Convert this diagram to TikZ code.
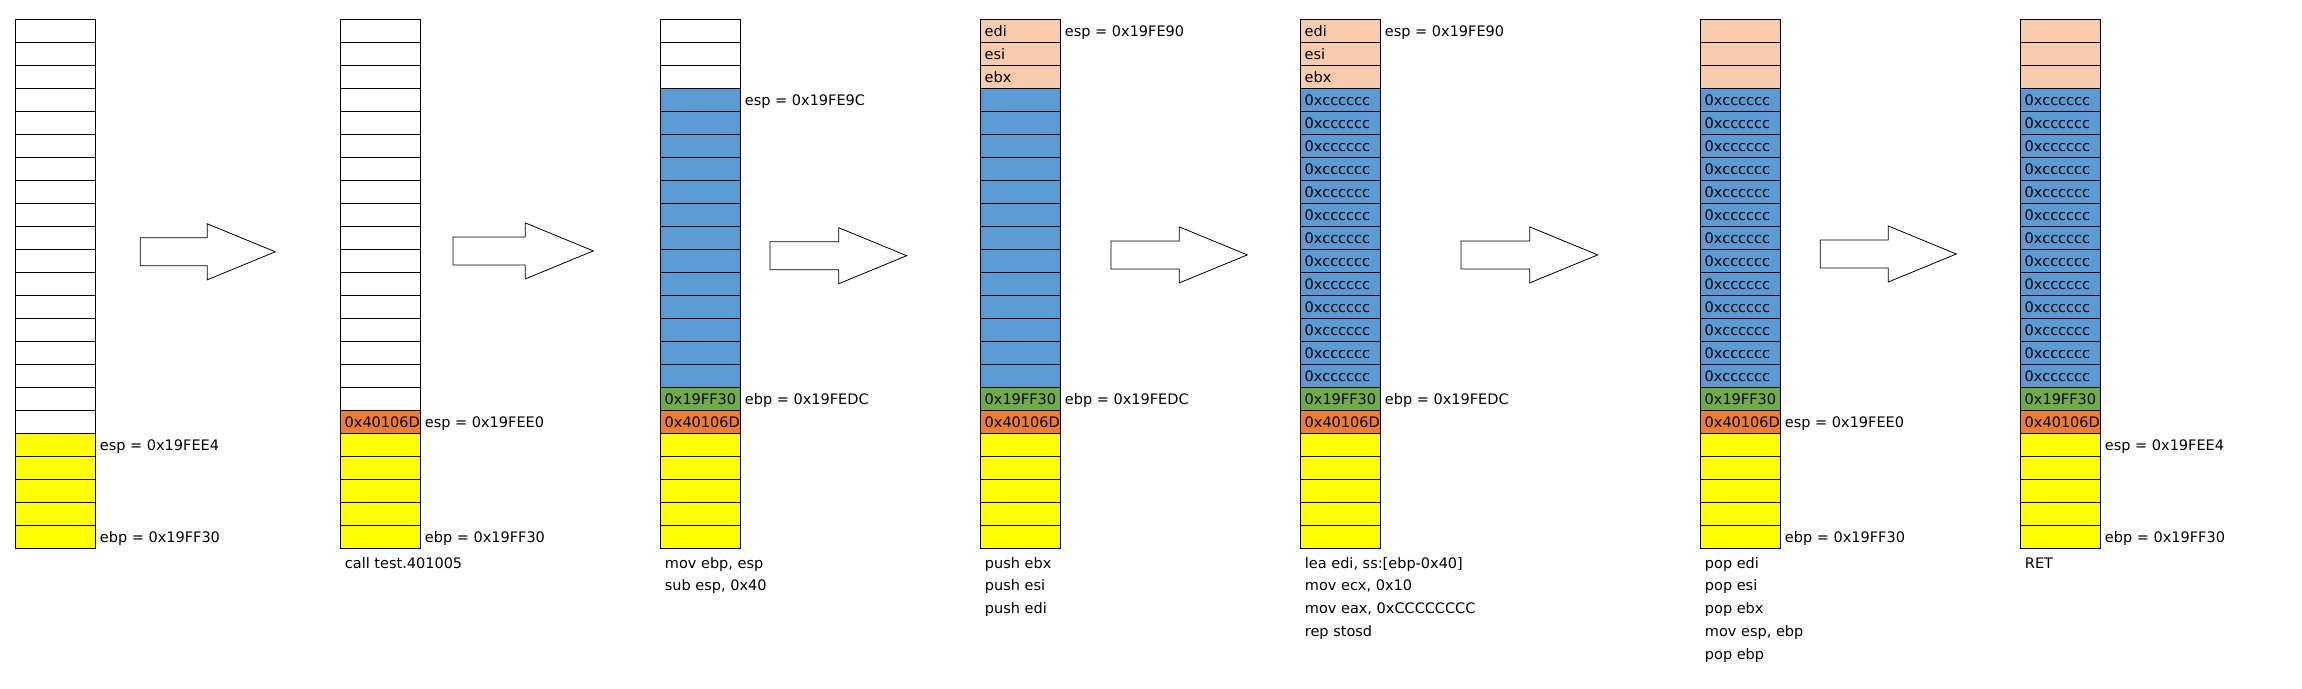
\documentclass[tikz,border=0pt]{standalone}
\usepackage{fontspec}
\setmainfont{DejaVu Sans}
\usetikzlibrary{positioning}

\definecolor{wt}{HTML}{FFFFFF}
\definecolor{yl}{HTML}{FFFF00}
\definecolor{og}{HTML}{ED7D31}
\definecolor{gn}{HTML}{70AD47}
\definecolor{bl}{HTML}{5B9BD5}
\definecolor{pc}{HTML}{F8CBAD}

% one stack column: name, left x, list of fill/text from the top
\newcommand\stackcolumn[3]{%
  \foreach \c/\t [count=\i from 0, remember=\i as \p (initially 0)] in {#3} {
    \ifnum\i=0
      \node[cell, fill=\c, anchor=north west] (#1-\i) at (#2,19.3) {\t};
    \else
      \node[cell, fill=\c, below=0pt of #1-\p] (#1-\i) {\t};
    \fi
  }%
}

% caption lines under a stack: name, left x, lines
\newcommand\stackcaption[3]{%
  \foreach \t [count=\i from 0] in {#3} {
    \node[lbl] (#1-cap\i) at (#2+4.4,562.8+22.8*\i) {\t};
  }%
}

\begin{document}
\begin{tikzpicture}[
    x=1pt, y=-1pt,
    every node/.style={font=\fontsize{14.5}{17}\selectfont},
    cell/.style={draw, line width=1pt, outer sep=0pt, inner xsep=4.4pt, inner ysep=0pt,
                 text width=71.2pt, align=left, minimum height=23pt,
                 text height=10.6pt, text depth=0pt},
    lbl/.style={anchor=west, inner sep=0pt, text height=10.6pt, text depth=0pt},
    reg/.style={lbl, right=4.4pt of #1},
    blockarrow/.style={draw, fill=white, line width=0.8pt}
]
\useasboundingbox (0,0) rectangle (2302,688);

% -------------------------
% STACKS
% -------------------------
\stackcolumn{s1}{15.3}{wt/,wt/,wt/,wt/,wt/,wt/,wt/,wt/,wt/,wt/,wt/,wt/,wt/,wt/,wt/,wt/,wt/,wt/,yl/,yl/,yl/,yl/,yl/}
\stackcolumn{s2}{340.3}{wt/,wt/,wt/,wt/,wt/,wt/,wt/,wt/,wt/,wt/,wt/,wt/,wt/,wt/,wt/,wt/,wt/,og/0x40106D,yl/,yl/,yl/,yl/,yl/}
\stackcolumn{s3}{660.3}{wt/,wt/,wt/,bl/,bl/,bl/,bl/,bl/,bl/,bl/,bl/,bl/,bl/,bl/,bl/,bl/,gn/0x19FF30,og/0x40106D,yl/,yl/,yl/,yl/,yl/}
\stackcolumn{s4}{980.3}{pc/edi,pc/esi,pc/ebx,bl/,bl/,bl/,bl/,bl/,bl/,bl/,bl/,bl/,bl/,bl/,bl/,bl/,gn/0x19FF30,og/0x40106D,yl/,yl/,yl/,yl/,yl/}
\stackcolumn{s5}{1300.3}{pc/edi,pc/esi,pc/ebx,bl/0xcccccc,bl/0xcccccc,bl/0xcccccc,bl/0xcccccc,bl/0xcccccc,bl/0xcccccc,bl/0xcccccc,bl/0xcccccc,bl/0xcccccc,bl/0xcccccc,bl/0xcccccc,bl/0xcccccc,bl/0xcccccc,gn/0x19FF30,og/0x40106D,yl/,yl/,yl/,yl/,yl/}
\stackcolumn{s6}{1700.3}{pc/,pc/,pc/,bl/0xcccccc,bl/0xcccccc,bl/0xcccccc,bl/0xcccccc,bl/0xcccccc,bl/0xcccccc,bl/0xcccccc,bl/0xcccccc,bl/0xcccccc,bl/0xcccccc,bl/0xcccccc,bl/0xcccccc,bl/0xcccccc,gn/0x19FF30,og/0x40106D,yl/,yl/,yl/,yl/,yl/}
\stackcolumn{s7}{2020.3}{pc/,pc/,pc/,bl/0xcccccc,bl/0xcccccc,bl/0xcccccc,bl/0xcccccc,bl/0xcccccc,bl/0xcccccc,bl/0xcccccc,bl/0xcccccc,bl/0xcccccc,bl/0xcccccc,bl/0xcccccc,bl/0xcccccc,bl/0xcccccc,gn/0x19FF30,og/0x40106D,yl/,yl/,yl/,yl/,yl/}

% -------------------------
% REGISTERS
% -------------------------
\node[reg=s1-18] (s1-esp) {esp = 0x19FEE4};
\node[reg=s1-22] (s1-ebp) {ebp = 0x19FF30};
\node[reg=s2-17] (s2-esp) {esp = 0x19FEE0};
\node[reg=s2-22] (s2-ebp) {ebp = 0x19FF30};
\node[reg=s3-3] (s3-esp) {esp = 0x19FE9C};
\node[reg=s3-16] (s3-ebp) {ebp = 0x19FEDC};
\node[reg=s4-0] (s4-esp) {esp = 0x19FE90};
\node[reg=s4-16] (s4-ebp) {ebp = 0x19FEDC};
\node[reg=s5-0] (s5-esp) {esp = 0x19FE90};
\node[reg=s5-16] (s5-ebp) {ebp = 0x19FEDC};
\node[reg=s6-17] (s6-esp) {esp = 0x19FEE0};
\node[reg=s6-22] (s6-ebp) {ebp = 0x19FF30};
\node[reg=s7-18] (s7-esp) {esp = 0x19FEE4};
\node[reg=s7-22] (s7-ebp) {ebp = 0x19FF30};

% -------------------------
% INSTRUCTIONS
% -------------------------
\stackcaption{s2}{340.3}{call test.401005}
\stackcaption{s3}{660.3}{{mov ebp, esp},{sub esp, 0x40}}
\stackcaption{s4}{980.3}{push ebx,push esi,push edi}
\stackcaption{s5}{1300.3}{{lea edi, ss:[ebp-0x40]},{mov ecx, 0x10},{mov eax, 0xCCCCCCCC},rep stosd}
\stackcaption{s6}{1700.3}{pop edi,pop esi,pop ebx,{mov esp, ebp},pop ebp}
\stackcaption{s7}{2020.3}{RET}

% -------------------------
% STEP ARROWS
% -------------------------
\foreach \x/\y/\l in {140.3/251.8/135, 453/250.9/140.3, 770/255.7/136.7, 1111/254.9/136.3, 1461/254.9/136.7, 1820.3/254/136}
  \draw[blockarrow] (\x,\y-14) -- (\x+\l-68,\y-14) -- (\x+\l-68,\y-28) -- (\x+\l,\y)
    -- (\x+\l-68,\y+28) -- (\x+\l-68,\y+14) -- (\x,\y+14) -- cycle;

\end{tikzpicture}
\end{document}
